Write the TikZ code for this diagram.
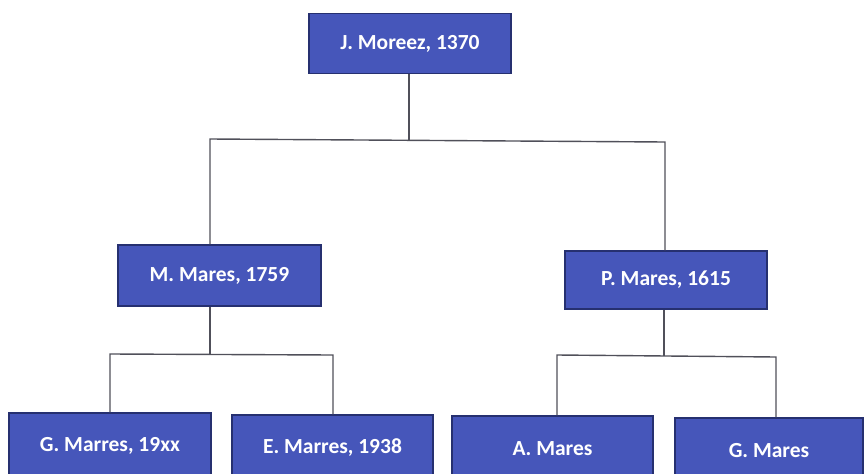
\documentclass[tikz,border=0pt]{standalone}
\usepackage{fontspec}
\setmainfont{Carlito}
\definecolor{boxfill}{RGB}{70,86,186}
\definecolor{boxline}{RGB}{38,48,112}
\definecolor{conncol}{RGB}{80,80,90}
\begin{document}
\begin{tikzpicture}[x=1pt,y=-1pt,
  person/.style={draw=boxline, fill=boxfill, line width=1.5pt, minimum width=202pt, minimum height=60pt,
    inner sep=0pt, text=white, font=\fontsize{21.5}{24}\selectfont\bfseries},
  conn/.style={draw=conncol, line width=1.4pt}]
\useasboundingbox (0,0) rectangle (865,474);
\clip (0,0) rectangle (865,474);
\fill[white] (0,0) rectangle (865,474);
% nodes
\node[person] (top) at (410,43.5) {J. Moreez, 1370};
\node[person, minimum height=61pt, minimum width=203pt] (mm) at (219.5,275.5) {M. Mares, 1759};
\node[person, minimum height=58pt] (pm) at (666,280) {P. Mares, 1615};
\node[person, minimum height=66pt] (gm1) at (110,446) {G. Marres, 19xx};
\node[person, minimum height=66pt, minimum width=201pt] (em) at (332.5,448) {E. Marres, 1938};
\node[person, minimum height=66pt, minimum width=201pt] (am) at (552.5,449) {A. Mares};
\node[person, minimum height=66pt, minimum width=188pt] (gm2) at (769,451) {G. Mares};
% junction coordinates
\coordinate (t) at (409,140);
\coordinate (c1) at (210,139);
\coordinate (c2) at (665,142);
\coordinate (m1) at (210,355);
\coordinate (ml) at (110,354);
\coordinate (mr) at (333,355);
\coordinate (p1) at (664,356);
\coordinate (pl) at (557,355);
\coordinate (pr) at (776,357);
% connectors
\draw[conn] (top.south -| t) -- (t);
\draw[conn] (mm.north -| c1) -- (c1) -- (c2) -- (pm.north -| c2);
\draw[conn] (mm.south -| m1) -- (m1);
\draw[conn] (gm1.north -| ml) -- (ml) -- (mr) -- (em.north -| mr);
\draw[conn] (pm.south -| p1) -- (p1);
\draw[conn] (am.north -| pl) -- (pl) -- (pr) -- (gm2.north -| pr);
\end{tikzpicture}
\end{document}
